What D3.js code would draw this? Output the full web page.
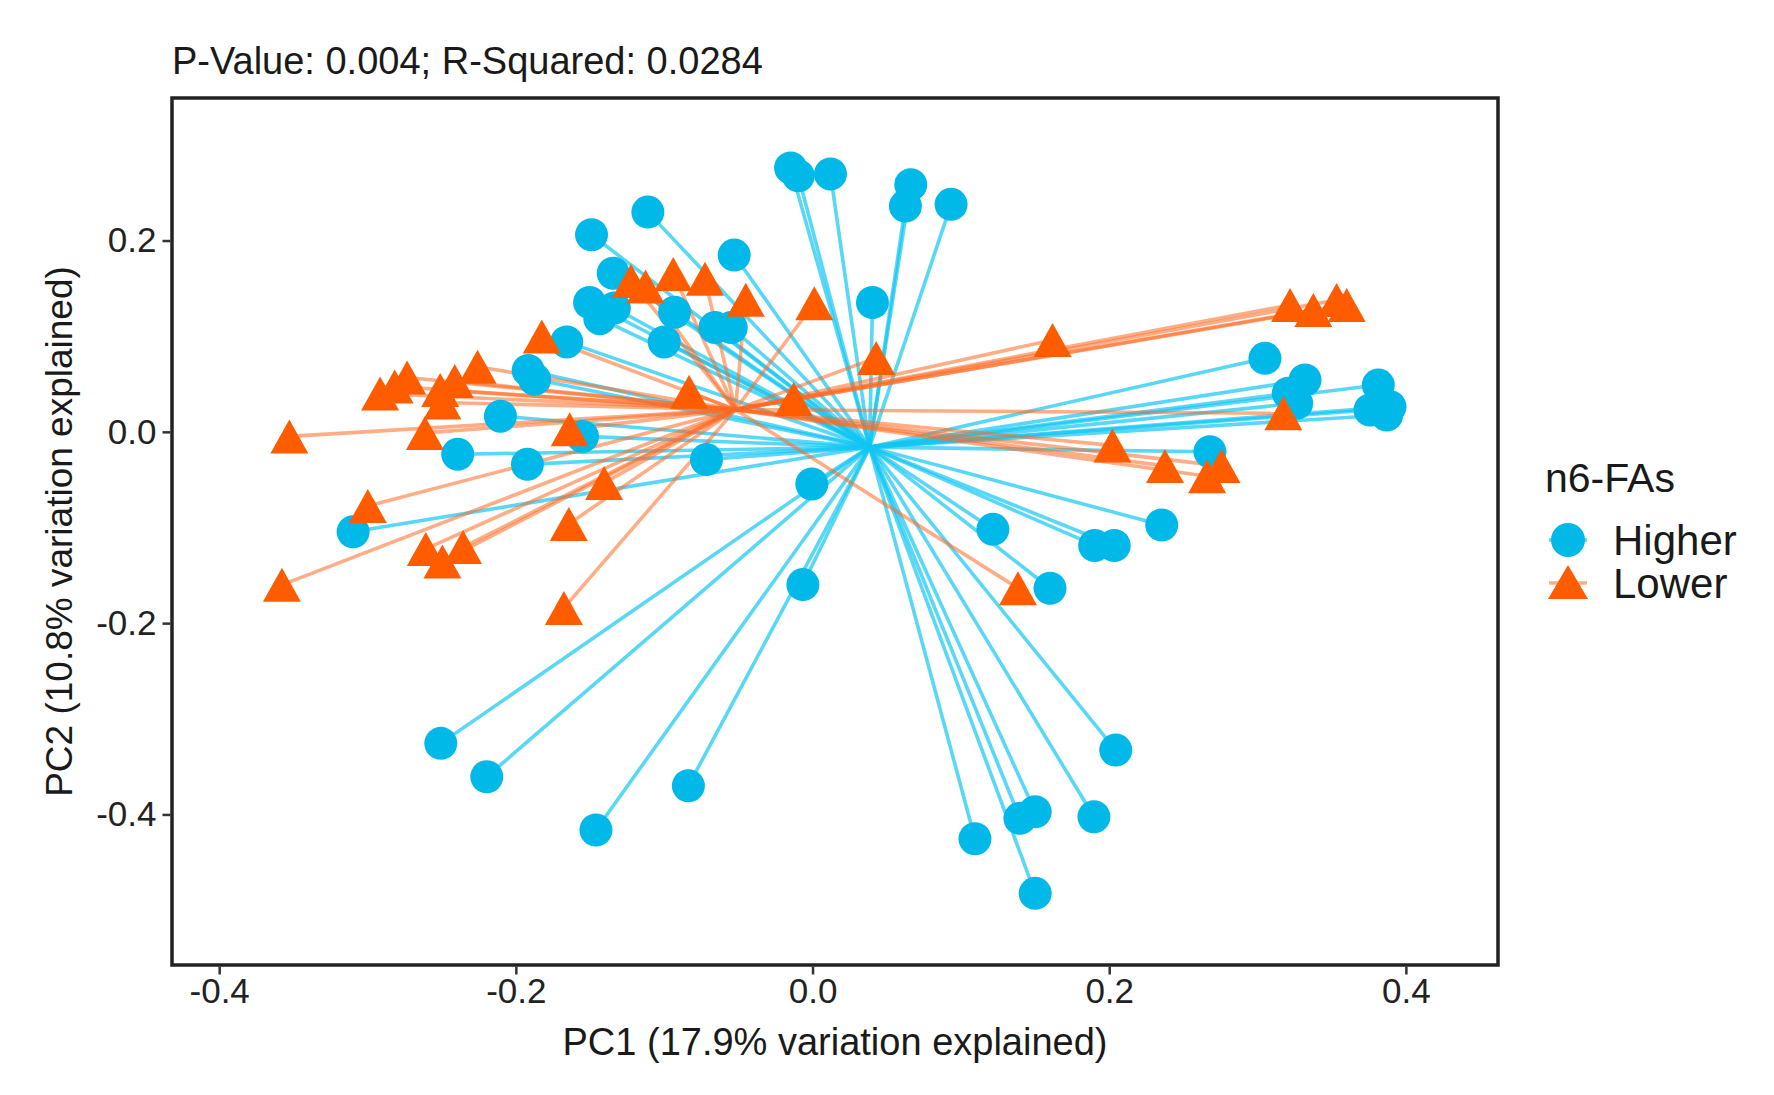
<!DOCTYPE html>
<html>
<head>
<meta charset="utf-8">
<script src="https://d3js.org/d3.v7.min.js"></script>
<style>
  body { margin: 0; background: #fff; }
  svg text { font-family: "Liberation Sans", Arial, Helvetica, sans-serif; fill: #1a1a1a; }
  .axis path { display: none; }
  .axis line { stroke: #333; stroke-width: 2.5; }
  .axis text { font-size: 35px; fill: #222; }
</style>
</head>
<body>
<svg id="chart" width="1774" height="1095"></svg>
<script>
// PC scores
var higherPC1 = [-0.0148, -0.0096, 0.0121, 0.0662, 0.0626, 0.0934, -0.111, -0.149, -0.0528, -0.1344,
    0.0404, -0.1503, -0.1434, -0.1336, -0.093, -0.0658, -0.0548, -0.100, -0.1657, -0.1917,
    -0.1873, 0.305, 0.332, 0.3207, 0.3264, 0.3814, 0.3758, 0.3893, 0.3871, -0.2104,
    -0.1551, -0.2392, -0.1922, -0.0715, 0.2679, -0.0005, -0.3097, 0.1216, 0.2354, 0.1902,
    0.2034, -0.0065, 0.1601, -0.2506, -0.2196, -0.0837, -0.146, 0.2044, 0.1095, 0.1398,
    0.1501, 0.1897, 0.1501];
var higherPC2 = [0.2759, 0.2677, 0.2696, 0.2584, 0.2360, 0.2378, 0.2297, 0.206, 0.1848, 0.1658,
    0.1352, 0.1352, 0.1183, 0.1295, 0.125, 0.109, 0.109, 0.094, 0.094, 0.0642,
    0.0549, 0.0768, 0.0542, 0.0403, 0.0298, 0.0489, 0.0228, 0.0262, 0.0176, 0.0164,
    -0.0048, -0.0235, -0.034, -0.029, -0.0208, -0.0545, -0.1045, -0.1019, -0.0974, -0.1188,
    -0.1188, -0.1597, -0.1635, -0.3257, -0.3606, -0.370, -0.4163, -0.3327, -0.4254, -0.4041,
    -0.3972, -0.4024, -0.4825];
var lowerPC1 = [-0.3527, -0.3577, -0.2998, -0.2915, -0.2817, -0.2733, -0.251, -0.2495, -0.2412, -0.2258,
    -0.2613, -0.2607, -0.2495, -0.2356, -0.1825, -0.1637, -0.1643, -0.1676, -0.1405, -0.1224,
    -0.1126, -0.0939, -0.0725, -0.045, -0.0832, 0.0012, -0.0127, 0.0429, 0.1618, 0.1385,
    0.2022, 0.2376, 0.266, 0.2757, 0.3174, 0.3219, 0.3376, 0.3533, 0.3601];
var lowerPC2 = [-0.0048, -0.160, -0.0776, 0.040, 0.0475, 0.0568, 0.0437, 0.0306, 0.0531, 0.068,
    -0.0011, -0.1224, -0.1355, -0.1205, 0.0997, 0.0026, -0.0963, -0.1841, -0.0534, 0.1576,
    0.152, 0.165, 0.160, 0.138, 0.0418, 0.1344, 0.0344, 0.0773, 0.096, -0.1635,
    -0.0142, -0.0356, -0.0465, -0.0356, 0.0193, 0.1326, 0.1273, 0.1378, 0.1326];

// group centroids (where the spider lines meet)
var higherCentroid = [0.0385, -0.016];
var lowerCentroid = [-0.052, 0.0232];

var groups = ['Higher', 'Lower'];
var xTicks = [-0.4, -0.2, 0.0, 0.2, 0.4];
var yTicks = [0.2, 0.0, -0.2, -0.4];

var titleText = 'P-Value: 0.004; R-Squared: 0.0284';
var xLabel = 'PC1 (17.9% variation explained)';
var yLabel = 'PC2 (10.8% variation explained)';
var legendTitle = 'n6-FAs';

var pointColor = { Higher: '#00b9e8', Lower: '#ff5c00' };
var lineColor = { Higher: '#12c6f2', Lower: '#ff6a22' };
var lineOpacity = { Higher: 0.7, Lower: 0.55 };

var panel = { left: 172, right: 1498, top: 98, bottom: 965 };

var svg = d3.select('#chart');

var xScale = d3.scaleLinear().domain([-0.4318, 0.4621]).range([panel.left, panel.right]);
var yScale = d3.scaleLinear().domain([-0.5574, 0.349]).range([panel.bottom, panel.top]);

// R style tick labels: plain hyphen for minus
var fmt = function (d) { return d3.format('.1f')(d).replace('\u2212', '-'); };

// build point table
var points = [];
higherPC1.forEach(function (v, i) {
    points.push({ group: 'Higher', pc1: v, pc2: higherPC2[i], cx: higherCentroid[0], cy: higherCentroid[1] });
});
lowerPC1.forEach(function (v, i) {
    points.push({ group: 'Lower', pc1: v, pc2: lowerPC2[i], cx: lowerCentroid[0], cy: lowerCentroid[1] });
});

function triangle(w, h) {
    var p = d3.path();
    p.moveTo(0, -h / 2);
    p.lineTo(w / 2, h / 2);
    p.lineTo(-w / 2, h / 2);
    p.closePath();
    return p.toString();
}

// clip to panel
svg.append('clipPath').attr('id', 'clip')
    .append('rect')
    .attr('x', panel.left).attr('y', panel.top)
    .attr('width', panel.right - panel.left).attr('height', panel.bottom - panel.top);

var plot = svg.append('g').attr('clip-path', 'url(#clip)');

// spider segments, blue first then orange
groups.forEach(function (g) {
    plot.append('g').selectAll('line')
        .data(points.filter(function (d) { return d.group == g; })).enter()
        .append('line')
        .attr('x1', function (d) { return xScale(d.cx); })
        .attr('y1', function (d) { return yScale(d.cy); })
        .attr('x2', function (d) { return xScale(d.pc1); })
        .attr('y2', function (d) { return yScale(d.pc2); })
        .attr('stroke', lineColor[g])
        .attr('stroke-opacity', lineOpacity[g])
        .attr('stroke-width', 3.6);
});

// points
plot.append('g').selectAll('circle')
    .data(points.filter(function (d) { return d.group == 'Higher'; })).enter()
    .append('circle')
    .attr('cx', function (d) { return xScale(d.pc1); })
    .attr('cy', function (d) { return yScale(d.pc2); })
    .attr('r', 16.5)
    .attr('fill', pointColor.Higher);

plot.append('g').selectAll('path')
    .data(points.filter(function (d) { return d.group == 'Lower'; })).enter()
    .append('path')
    .attr('d', triangle(38, 34))
    .attr('transform', function (d) { return 'translate(' + xScale(d.pc1) + ',' + yScale(d.pc2) + ')'; })
    .attr('fill', pointColor.Lower);

// panel border
svg.append('rect')
    .attr('x', panel.left).attr('y', panel.top)
    .attr('width', panel.right - panel.left).attr('height', panel.bottom - panel.top)
    .attr('fill', 'none')
    .attr('stroke', '#222')
    .attr('stroke-width', 3.5);

// axes
svg.append('g')
    .attr('class', 'axis')
    .attr('transform', 'translate(0,' + (panel.bottom + 1.5) + ')')
    .call(d3.axisBottom(xScale).tickValues(xTicks).tickSize(8).tickPadding(4).tickFormat(fmt));

svg.append('g')
    .attr('class', 'axis')
    .attr('transform', 'translate(' + (panel.left - 1.5) + ',0)')
    .call(d3.axisLeft(yScale).tickValues(yTicks).tickSize(8).tickPadding(6).tickFormat(fmt));

// titles
svg.append('text')
    .attr('x', panel.left)
    .attr('y', 74)
    .style('font-size', '38px')
    .text(titleText);

svg.append('text')
    .attr('x', (panel.left + panel.right) / 2)
    .attr('y', 1055)
    .attr('text-anchor', 'middle')
    .style('font-size', '38px')
    .text(xLabel);

svg.append('text')
    .attr('transform', 'translate(72,' + ((panel.top + panel.bottom) / 2) + ') rotate(-90)')
    .attr('text-anchor', 'middle')
    .style('font-size', '37px')
    .text(yLabel);

// legend
var legend = svg.append('g').attr('transform', 'translate(1545,0)');
legend.append('text')
    .attr('x', 0).attr('y', 492)
    .style('font-size', '41px')
    .text(legendTitle);

var keys = legend.selectAll('g.key').data(groups).enter()
    .append('g')
    .attr('class', 'key')
    .attr('transform', function (d, i) { return 'translate(0,' + (540 + i * 43) + ')'; });

keys.append('line')
    .attr('x1', 4).attr('x2', 42)
    .attr('y1', 0).attr('y2', 0)
    .attr('stroke', function (d) { return lineColor[d]; })
    .attr('stroke-opacity', function (d) { return lineOpacity[d]; })
    .attr('stroke-width', 3.6);

keys.each(function (d) {
    var k = d3.select(this);
    if (d == 'Higher') {
        k.append('circle').attr('cx', 23).attr('cy', 0).attr('r', 17).attr('fill', pointColor.Higher);
    } else {
        k.append('path').attr('d', triangle(40, 34))
            .attr('transform', 'translate(23,-1)')
            .attr('fill', pointColor.Lower);
    }
});

keys.append('text')
    .attr('x', 68).attr('y', 15)
    .style('font-size', '42px')
    .text(function (d) { return d; });
</script>
</body>
</html>
